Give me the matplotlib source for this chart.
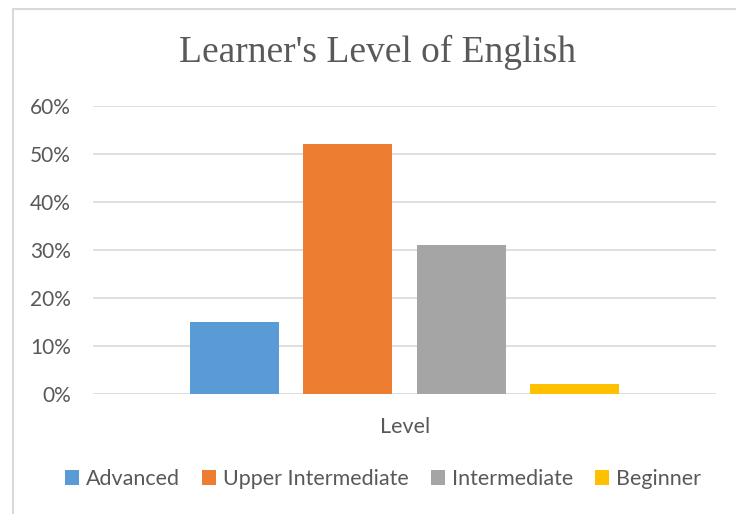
import matplotlib
matplotlib.use("Agg")
import matplotlib.pyplot as plt
from matplotlib.patches import Rectangle
from matplotlib.ticker import FuncFormatter

categories = ["Advanced", "Upper Intermediate", "Intermediate", "Beginner"]
values = [15, 52, 31, 2]
colors = ["#5B9BD5", "#ED7D31", "#A5A5A5", "#FFC000"]
yticks = [0, 10, 20, 30, 40, 50, 60]
xlabel = "Level"
title = "Learner's Level of English"

W, H = 736, 514
fig = plt.figure(figsize=(W / 100, H / 100), dpi=100)
fig.patch.set_facecolor("white")

# outer chart frame
fig.patches.append(Rectangle((13 / W, -0.05), 1.1, 1 - 9 / H + 0.05,
                             transform=fig.transFigure, fill=False,
                             edgecolor="#D9D9D9", linewidth=1.5))

ax = fig.add_axes([93 / W, 1 - 394 / H, (716 - 93) / W, (394 - 106) / H])
step = 0.182
width = 0.1433
for i, (c, v, col) in enumerate(zip(categories, values, colors)):
    ax.bar((i - 1.5) * step, v, width=width, color=col, label=c, zorder=3)

ax.set_xlim(-0.5, 0.5)
ax.set_ylim(0, 60)
ax.set_yticks(yticks)
ax.yaxis.set_major_formatter(FuncFormatter(lambda v, p: f"{int(v)}%"))
ax.set_xticks([])
ax.grid(axis="y", color="#D9D9D9", linewidth=1.2, zorder=0)
for s in ax.spines.values():
    s.set_visible(False)
ax.tick_params(axis="y", length=0, pad=16, labelsize=15, labelcolor="#595959")
for t in ax.get_yticklabels():
    t.set_fontfamily(["Lato", "DejaVu Sans"])

fig.text(378 / W, 1 - 52 / H, title, ha="center", va="center",
         fontsize=27, color="#595959", family=["Liberation Serif"])
fig.text(405 / W, 1 - 427 / H, xlabel, ha="center", va="center",
         fontsize=15.5, color="#595959", family=["Lato", "DejaVu Sans"])

leg = fig.legend(loc="center", bbox_to_anchor=(383 / W, 1 - 479 / H), ncol=4,
                 frameon=False, handlelength=0.65, handleheight=0.65,
                 handletextpad=0.35, columnspacing=1.0,
                 prop={"family": ["Lato", "DejaVu Sans"], "size": 15.5})
for t in leg.get_texts():
    t.set_color("#595959")

fig.savefig("out.png", dpi=100, facecolor="white")
